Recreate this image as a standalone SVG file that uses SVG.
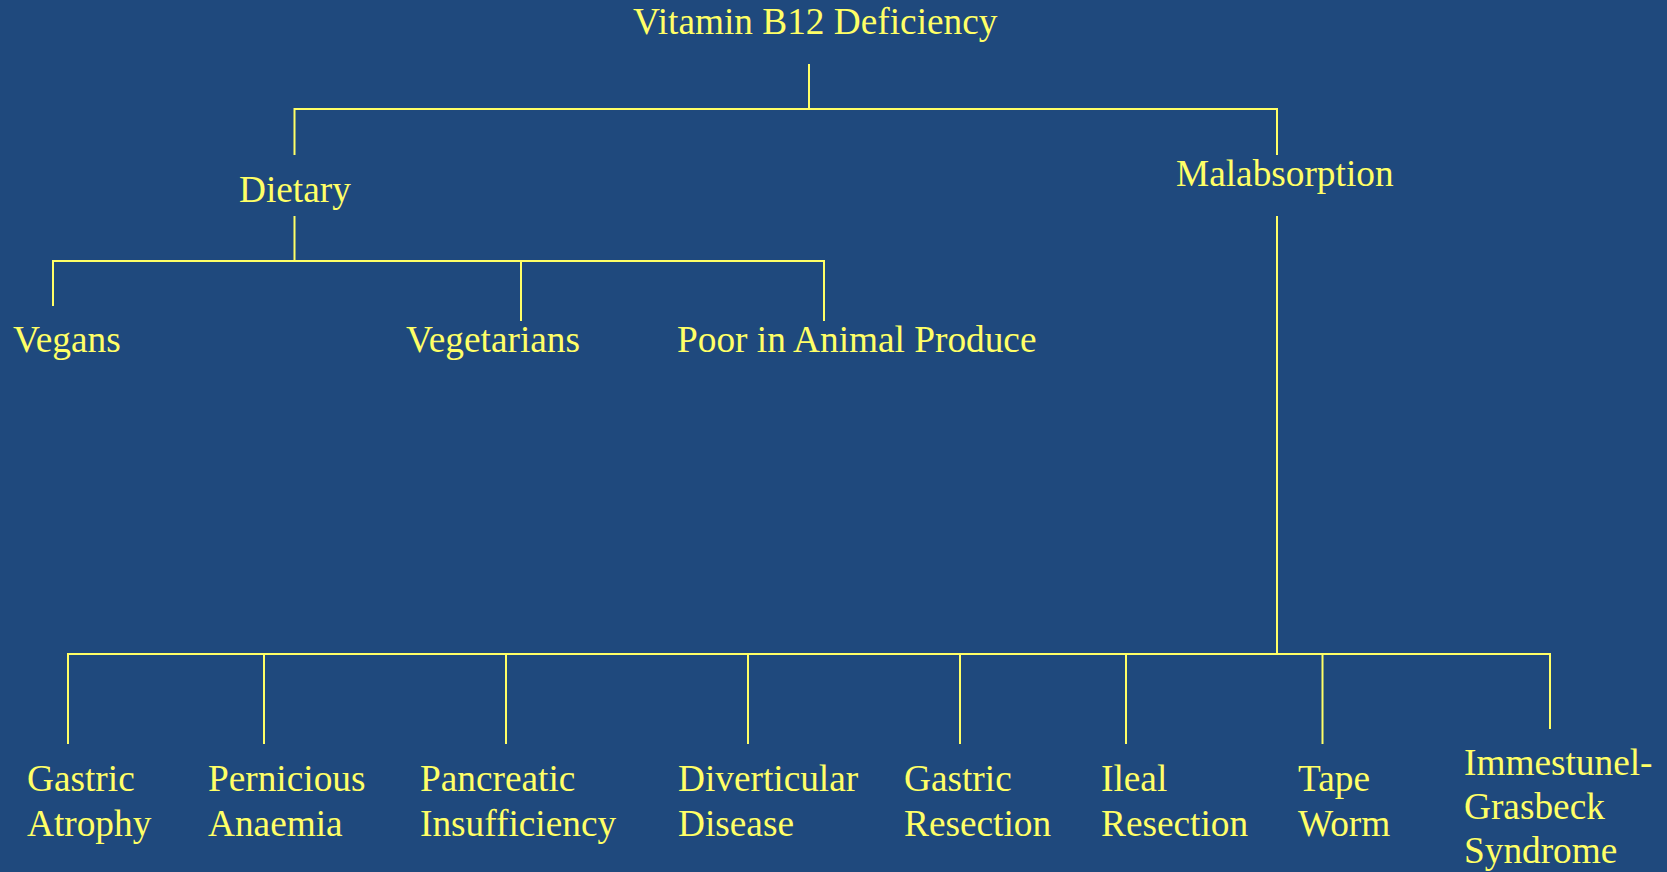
<svg xmlns="http://www.w3.org/2000/svg" width="1667" height="872" viewBox="0 0 1667 872">
<style>
  text { font-family: "Liberation Serif", "Times New Roman", serif; font-size: 37.3px; fill: #FFFF66; }
  .c line { stroke: #FFFF66; stroke-width: 2; fill: none; }
</style>
<rect x="0" y="0" width="1667" height="872" fill="#1F497D"/>
<g id="connectors" class="c">
  <line x1="809" y1="64" x2="809" y2="109"/>
  <line x1="294.5" y1="109" x2="1277.5" y2="109"/>
  <line x1="294.5" y1="108" x2="294.5" y2="155"/>
  <line x1="1277" y1="108" x2="1277" y2="155"/>
  <line x1="294.5" y1="216" x2="294.5" y2="261"/>
  <line x1="53" y1="261" x2="824" y2="261"/>
  <line x1="53" y1="260" x2="53" y2="306"/>
  <line x1="521" y1="260" x2="521" y2="321"/>
  <line x1="824" y1="260" x2="824" y2="321"/>
  <line x1="1277" y1="216" x2="1277" y2="654"/>
  <line x1="68" y1="654" x2="1550" y2="654"/>
  <line x1="68" y1="653" x2="68" y2="744"/>
  <line x1="264" y1="653" x2="264" y2="744"/>
  <line x1="506" y1="653" x2="506" y2="744"/>
  <line x1="748" y1="653" x2="748" y2="744"/>
  <line x1="960" y1="653" x2="960" y2="744"/>
  <line x1="1126" y1="653" x2="1126" y2="744"/>
  <line x1="1322.5" y1="653" x2="1322.5" y2="744"/>
  <line x1="1550" y1="653" x2="1550" y2="729"/>
</g>
<g id="n-root"><text x="633" y="34">Vitamin B12 Deficiency</text></g>
<g id="n-dietary"><text x="239" y="202">Dietary</text></g>
<g id="n-malabsorption"><text x="1176" y="186">Malabsorption</text></g>
<g id="n-vegans"><text x="13" y="352">Vegans</text></g>
<g id="n-vegetarians"><text x="406" y="352">Vegetarians</text></g>
<g id="n-poor"><text x="677" y="352">Poor in Animal Produce</text></g>
<g id="n-gastric-atrophy"><text x="27" y="791">Gastric</text><text x="27" y="835.5">Atrophy</text></g>
<g id="n-pernicious"><text x="208" y="791">Pernicious</text><text x="208" y="835.5">Anaemia</text></g>
<g id="n-pancreatic"><text x="420" y="791">Pancreatic</text><text x="420" y="835.5">Insufficiency</text></g>
<g id="n-diverticular"><text x="678" y="791">Diverticular</text><text x="678" y="835.5">Disease</text></g>
<g id="n-gastric-resection"><text x="904" y="791">Gastric</text><text x="904" y="835.5">Resection</text></g>
<g id="n-ileal"><text x="1101" y="791">Ileal</text><text x="1101" y="835.5">Resection</text></g>
<g id="n-tape"><text x="1298" y="791">Tape</text><text x="1298" y="835.5">Worm</text></g>
<g id="n-immestunel"><text x="1464" y="775">Immestunel-</text><text x="1464" y="819">Grasbeck</text><text x="1464" y="863">Syndrome</text></g>
</svg>
